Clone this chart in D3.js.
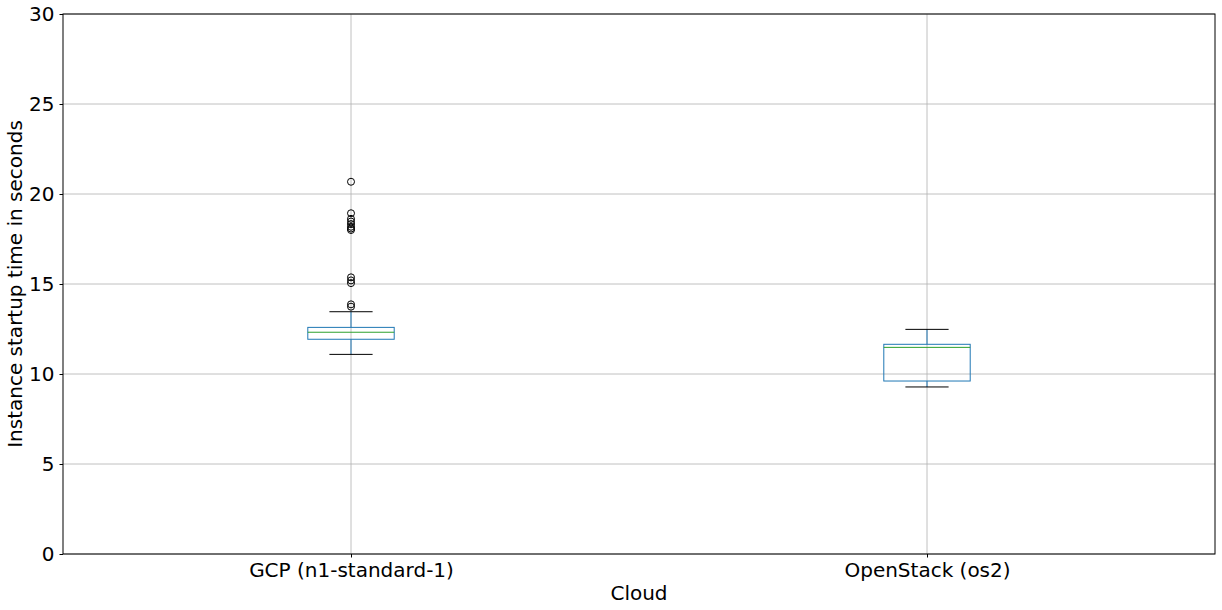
<!DOCTYPE html>
<html>
<head>
<meta charset="utf-8">
<script src="https://cdn.jsdelivr.net/npm/d3@7"></script>
<style>
  body { margin: 0; background: #fff; }
  text { font-family: "DejaVu Sans", sans-serif; }
</style>
</head>
<body>
<div id="chart"></div>
<script>
const categories = ["GCP (n1-standard-1)", "OpenStack (os2)"]
// box stats: whisker low, q1, median, q3, whisker high
const whiskerLow = [11.09, 9.28]
const q1 = [11.93, 9.61]
const median = [12.32, 11.48]
const q3 = [12.59, 11.65]
const whiskerHigh = [13.46, 12.48]
const outliers = [
  [20.68, 18.93, 18.62, 18.47, 18.33, 18.18, 18.08, 18.0, 15.37, 15.2, 15.05, 13.87, 13.74],
  []
]
const yTicks = [0, 5, 10, 15, 20, 25, 30]

const width = 1222
const height = 610
const margin = {top: 14, right: 7, bottom: 56, left: 63}

const svg = d3.select('#chart').append('svg')
    .attr('width', width)
    .attr('height', height)

const x = d3.scaleLinear()
    .domain([0.5, categories.length + 0.5])
    .range([margin.left, width - margin.right])
const y = d3.scaleLinear()
    .domain([0, 30])
    .range([height - margin.bottom, margin.top])

const plotW = width - margin.left - margin.right
const boxW = plotW / categories.length * 0.15
const capW = boxW / 2

//grid
svg.append('g')
    .selectAll('line')
    .data(yTicks)
    .join('line')
    .attr('x1', margin.left).attr('x2', width - margin.right)
    .attr('y1', d => y(d)).attr('y2', d => y(d))
    .attr('stroke', '#b0b0b0').attr('stroke-width', 0.8)
svg.append('g')
    .selectAll('line')
    .data(categories)
    .join('line')
    .attr('x1', (d, i) => x(i + 1)).attr('x2', (d, i) => x(i + 1))
    .attr('y1', margin.top).attr('y2', height - margin.bottom)
    .attr('stroke', '#b0b0b0').attr('stroke-width', 0.8)

//axes
svg.append('g')
    .attr('transform', `translate(${margin.left},0)`)
    .call(d3.axisLeft(y).tickValues(yTicks).tickSize(3.5).tickPadding(5).tickFormat(d3.format('d')))
    .call(g => g.select('.domain').remove())
    .call(g => g.selectAll('text').attr('font-size', 20).attr('fill', '#000'))
    .call(g => g.selectAll('line').attr('stroke', '#000'))

svg.append('g')
    .attr('transform', `translate(0,${height - margin.bottom})`)
    .call(d3.axisBottom(x).tickValues(categories.map((d, i) => i + 1)).tickSize(3.5).tickPadding(5)
        .tickFormat((d, i) => categories[i]))
    .call(g => g.select('.domain').remove())
    .call(g => g.selectAll('text').attr('font-size', 20).attr('fill', '#000'))
    .call(g => g.selectAll('line').attr('stroke', '#000'))

svg.append('rect')
    .attr('x', margin.left).attr('y', margin.top)
    .attr('width', plotW).attr('height', height - margin.top - margin.bottom)
    .attr('fill', 'none').attr('stroke', '#000').attr('stroke-width', 1)

svg.append('text')
    .attr('x', margin.left + plotW / 2)
    .attr('y', height - 10)
    .attr('text-anchor', 'middle')
    .attr('font-size', 20)
    .text('Cloud')

svg.append('text')
    .attr('transform', `translate(22,${y(15)}) rotate(-90)`)
    .attr('text-anchor', 'middle')
    .attr('font-size', 20)
    .text('Instance startup time in seconds')

//boxes
const boxes = svg.append('g')
    .selectAll('g')
    .data(categories)
    .join('g')

const blue = '#1f77b4'
boxes.append('line')
    .attr('x1', (d, i) => x(i + 1)).attr('x2', (d, i) => x(i + 1))
    .attr('y1', (d, i) => y(whiskerLow[i])).attr('y2', (d, i) => y(q1[i]))
    .attr('stroke', blue)
boxes.append('line')
    .attr('x1', (d, i) => x(i + 1)).attr('x2', (d, i) => x(i + 1))
    .attr('y1', (d, i) => y(q3[i])).attr('y2', (d, i) => y(whiskerHigh[i]))
    .attr('stroke', blue)
boxes.append('rect')
    .attr('x', (d, i) => x(i + 1) - boxW / 2)
    .attr('y', (d, i) => y(q3[i]))
    .attr('width', boxW)
    .attr('height', (d, i) => y(q1[i]) - y(q3[i]))
    .attr('fill', 'none').attr('stroke', blue)
boxes.append('line')
    .attr('x1', (d, i) => x(i + 1) - boxW / 2).attr('x2', (d, i) => x(i + 1) + boxW / 2)
    .attr('y1', (d, i) => y(median[i])).attr('y2', (d, i) => y(median[i]))
    .attr('stroke', '#2ca02c')
boxes.append('line')
    .attr('x1', (d, i) => x(i + 1) - capW / 2).attr('x2', (d, i) => x(i + 1) + capW / 2)
    .attr('y1', (d, i) => y(whiskerLow[i])).attr('y2', (d, i) => y(whiskerLow[i]))
    .attr('stroke', '#000')
boxes.append('line')
    .attr('x1', (d, i) => x(i + 1) - capW / 2).attr('x2', (d, i) => x(i + 1) + capW / 2)
    .attr('y1', (d, i) => y(whiskerHigh[i])).attr('y2', (d, i) => y(whiskerHigh[i]))
    .attr('stroke', '#000')
boxes.selectAll('circle')
    .data((d, i) => outliers[i].map(v => ({v, i})))
    .join('circle')
    .attr('cx', d => x(d.i + 1))
    .attr('cy', d => y(d.v))
    .attr('r', 3.5)
    .attr('fill', 'none')
    .attr('stroke', '#000')
</script>
</body>
</html>
